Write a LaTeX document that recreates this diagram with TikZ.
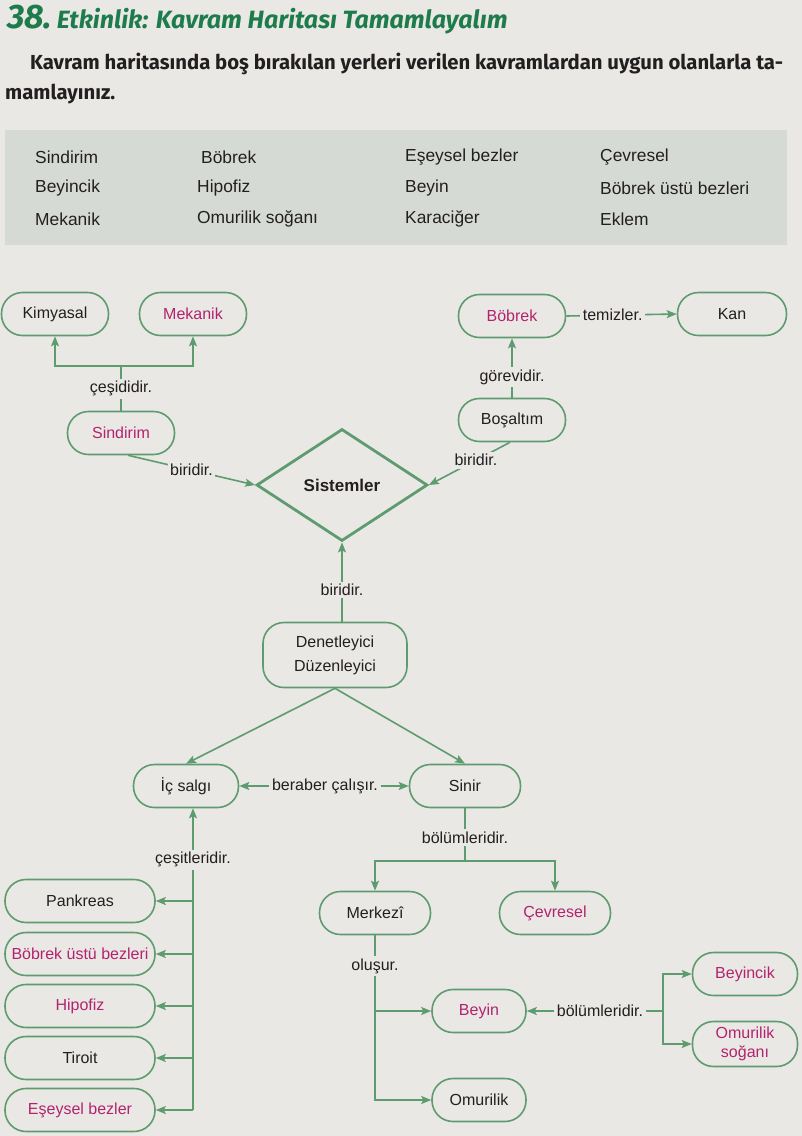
\documentclass[tikz,border=0pt]{standalone}
\usepackage{fontspec}
\setmainfont{Liberation Sans}
\newfontfamily\headfont{Fira Sans}
\usetikzlibrary{arrows.meta,positioning,shapes.geometric}
\definecolor{paper}{HTML}{EAE8E5}
\definecolor{panel}{HTML}{D6DAD4}
\definecolor{leaf}{HTML}{5E9B6E}
\definecolor{plum}{HTML}{B2236E}
\definecolor{ink}{HTML}{231F20}
\definecolor{head}{HTML}{1E7B4C}

\begin{document}
\begin{tikzpicture}[x=1pt,y=-1pt,
  every node/.style={text=ink,font=\fontsize{16}{19}\selectfont},
  kbox/.style={draw=leaf,line width=1.6pt,rounded corners=21pt,minimum width=107pt,minimum height=43pt,align=center,inner sep=0pt},
  gland/.style={kbox,minimum width=150pt},
  ans/.style={text=plum},
  lbl/.style={fill=paper,inner sep=2.5pt},
  arr/.style={-{Stealth[length=10pt,width=8pt,inset=2pt]},line width=1.6pt,leaf},
  lin/.style={line width=1.6pt,leaf}
]
  \useasboundingbox (0,0) rectangle (802,1136);
  \fill[paper] (0,0) rectangle (802,1136);

  % heading and task
  \node[anchor=base west,inner sep=0pt,text=head] (ttl) at (7,28) {\headfont\bfseries\itshape{\fontsize{34}{34}\selectfont 38.} \fontsize{25}{25}\selectfont Etkinlik: Kavram Haritası Tamamlayalım};
  \node[anchor=base west,inner sep=0pt,font=\headfont\bfseries\fontsize{20.3}{23}\selectfont] (ins1) at (30,69) {Kavram haritasında boş bırakılan yerleri verilen kavramlardan uygun olanlarla ta-};
  \node[anchor=base west,inner sep=0pt,font=\headfont\bfseries\fontsize{20.3}{23}\selectfont] (ins2) at (5,99) {mamlayınız.};

  % word list
  \fill[panel] (5,130) rectangle (787,245);
  \foreach \t/\x/\y [count=\i] in {Sindirim/35/157,Böbrek/201/157,Eşeysel bezler/405/157,Çevresel/600/157,
    Beyincik/35/188,Hipofiz/197/188,Beyin/405/188,Böbrek üstü bezleri/600/188,
    Mekanik/35/219,Omurilik soğanı/197/219,Karaciğer/405/219,Eklem/600/219}
    \node[anchor=west,inner sep=0pt,font=\fontsize{17.4}{20}\selectfont] (w\i) at (\x,\y) {\t};

  % concept map
  \node[kbox] (kim) at (55,314) {Kimyasal};
  \node[kbox,ans] (mek) at (193,314) {Mekanik};
  \node[kbox,ans] (sin) at (121,433) {Sindirim};
  \node[diamond,draw=leaf,line width=2.8pt,aspect=1.53,minimum width=171pt,minimum height=112pt,inner sep=0pt,font=\bfseries\fontsize{17}{20}\selectfont] (sis) at (342,485) {Sistemler};
  \node[kbox,ans] (bob) at (512,316) {Böbrek};
  \node[kbox,minimum width=109pt] (kan) at (732,314) {Kan};
  \node[kbox] (bos) at (512,420) {Boşaltım};
  \node[kbox,minimum width=144pt,minimum height=65pt,font=\fontsize{16}{24}\selectfont] (den) at (335,655) {Denetleyici\\Düzenleyici};
  \node[kbox,minimum width=105pt] (ics) at (186,786) {İç salgı};
  \node[kbox,minimum width=111pt] (snr) at (465,786) {Sinir};
  \node[kbox,minimum width=111pt] (mrk) at (375,913) {Merkezî};
  \node[kbox,ans,minimum width=111pt] (cev) at (555,913) {Çevresel};
  \node[kbox,ans,minimum width=94pt] (bey) at (479,1011) {Beyin};
  \node[kbox,minimum width=94pt] (omu) at (479,1100) {Omurilik};
  \node[kbox,ans,minimum width=105pt] (byc) at (745,974) {Beyincik};
  \node[kbox,ans,minimum width=105pt,minimum height=45pt] (oms) at (745,1044) {Omurilik\\soğanı};
  \node[gland] (pan) at (80,901) {Pankreas};
  \node[gland,ans] (bub) at (80,954) {Böbrek üstü bezleri};
  \node[gland,ans] (hip) at (80,1006) {Hipofiz};
  \node[gland] (tir) at (80,1058) {Tiroit};
  \node[gland,ans] (esy) at (80,1110) {Eşeysel bezler};

  % connectors
  \coordinate (cj) at (121,366);
  \draw[lin] (sin.north) -- (cj) node[lbl,pos=.49] {çeşididir.};
  \draw[arr] (cj) -| (kim.south);
  \draw[arr] (cj) -| (mek.south);
  \draw[arr] ([xshift=7pt]sin.south) -- (sis.west) node[lbl,pos=.5] {biridir.};
  \draw[arr] ([xshift=-2pt]bos.south) -- (sis.east) node[lbl,pos=.42] {biridir.};
  \draw[arr] (bos.north) -- (bob.south) node[lbl,pos=.35] {görevidir.};
  \draw[arr] (bob.east) -- (kan.west) node[lbl,pos=.42] {temizler.};
  \draw[arr] (den.north -| sis.south) -- (sis.south) node[lbl,pos=.4] {biridir.};
  \draw[arr] (den.south) -- (ics.north);
  \draw[arr] (den.south) -- (snr.north);
  \node[lbl] (ber) at (325,786) {beraber çalışır.};
  \draw[arr] (ber.west) -- (ics.east);
  \draw[arr] (ber.east) -- (snr.west);
  \coordinate (sj) at (465,861);
  \draw[lin] (snr.south) -- (sj) node[lbl,pos=.55] {bölümleridir.};
  \draw[arr] (sj) -| (mrk.north);
  \draw[arr] (sj) -| (cev.north);
  \draw[arr] (mrk.south) |- (omu.west) node[lbl,pos=.094] {oluşur.};
  \draw[arr] (mrk.south |- bey.west) -- (bey.west);
  \node[lbl] (bl2) at (600,1011) {bölümleridir.};
  \coordinate (bj) at (663,1011);
  \draw[arr] (bl2.west) -- (bey.east);
  \draw[lin] (bl2.east) -- (bj);
  \draw[arr] (bj) |- (byc.west);
  \draw[arr] (bj) |- (oms.west);
  \coordinate (tr) at (193,1110);
  \draw[arr] (tr) -- (tr |- ics.south) node[lbl,pos=.83] {çeşitleridir.};
  \foreach \g in {pan,bub,hip,tir,esy}
    \draw[arr] (\g.east -| tr) -- (\g.east);
\end{tikzpicture}
\end{document}
